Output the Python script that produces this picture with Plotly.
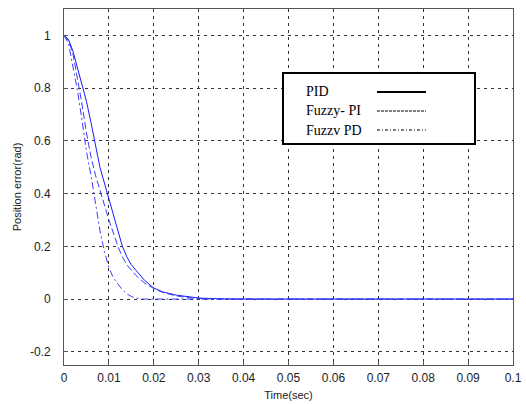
import plotly.graph_objects as go

t_pid = [0, 0.001, 0.002, 0.003, 0.004, 0.005, 0.006, 0.007, 0.008, 0.009, 0.010, 0.011, 0.012, 0.013,
         0.014, 0.015, 0.016, 0.018, 0.020, 0.022, 0.025, 0.028, 0.030, 0.035, 0.040, 0.1]
v_pid = [1, 0.985, 0.94, 0.88, 0.82, 0.75, 0.67, 0.58, 0.50, 0.44, 0.38, 0.32, 0.26, 0.20,
         0.16, 0.13, 0.11, 0.07, 0.042, 0.027, 0.015, 0.007, 0.004, 0.001, 0, 0]

t_fpi = [0, 0.001, 0.002, 0.003, 0.004, 0.005, 0.006, 0.007, 0.008, 0.009, 0.010, 0.011, 0.012, 0.013,
         0.014, 0.015, 0.016, 0.018, 0.020, 0.022, 0.025, 0.028, 0.030, 0.035, 0.1]
v_fpi = [1, 0.98, 0.93, 0.84, 0.74, 0.63, 0.54, 0.47, 0.41, 0.35, 0.30, 0.25, 0.20, 0.16,
         0.13, 0.11, 0.09, 0.06, 0.04, 0.025, 0.012, 0.005, 0.002, 0, 0]

t_fpd = [0, 0.001, 0.002, 0.003, 0.004, 0.005, 0.006, 0.007, 0.008, 0.009, 0.010, 0.011, 0.012, 0.013,
         0.014, 0.015, 0.016, 0.017, 0.1]
v_fpd = [1, 0.97, 0.88, 0.79, 0.68, 0.56, 0.47, 0.37, 0.26, 0.18, 0.12, 0.08, 0.055, 0.035,
         0.02, 0.01, 0.004, 0, 0]

series_names = ["PID", "Fuzzy- PI", "Fuzzv PD"]
x_ticks = [0, 0.01, 0.02, 0.03, 0.04, 0.05, 0.06, 0.07, 0.08, 0.09, 0.1]
x_labels = ["0", "0.01", "0.02", "0.03", "0.04", "0.05", "0.06", "0.07", "0.08", "0.09", "0.1"]
y_ticks = [-0.2, 0, 0.2, 0.4, 0.6, 0.8, 1]
y_labels = ["-0.2", "0", "0.2", "0.4", "0.6", "0.8", "1"]

fig = go.Figure()
fig.add_trace(go.Scatter(x=t_pid, y=v_pid, mode="lines", name=series_names[0],
                         line=dict(color="#1a1aff", width=1)))
fig.add_trace(go.Scatter(x=t_fpi, y=v_fpi, mode="lines", name=series_names[1],
                         line=dict(color="#3b3bff", width=1, dash="7px,3px")))
fig.add_trace(go.Scatter(x=t_fpd, y=v_fpd, mode="lines", name=series_names[2],
                         line=dict(color="#3b3bff", width=1, dash="7px,3px,2px,3px")))

axis_font = dict(family="Liberation Sans, Arial", size=12, color="#222")
title_font = dict(family="Liberation Sans, Arial", size=11, color="#222")
fig.update_layout(
    width=526, height=404,
    margin=dict(l=64, r=13, t=9, b=39),
    paper_bgcolor="white", plot_bgcolor="white",
    showlegend=False,
    xaxis=dict(range=[0, 0.1], tickvals=x_ticks, ticktext=x_labels, tickfont=axis_font,
               showgrid=True, gridcolor="#333", griddash="3px,4px", gridwidth=1,
               zeroline=False, showline=True, linecolor="#555", linewidth=1, mirror=True,
               ticks="inside", ticklen=4, tickcolor="#555", ticklabelstandoff=2, automargin=False,
               title=dict(text="Time(sec)", font=title_font, standoff=6)),
    yaxis=dict(range=[-0.25, 1.1], tickvals=y_ticks, ticktext=y_labels, tickfont=axis_font,
               showgrid=True, gridcolor="#333", griddash="3px,4px", gridwidth=1,
               zeroline=False, showline=True, linecolor="#555", linewidth=1, mirror=True,
               ticks="inside", ticklen=4, tickcolor="#555", ticklabelstandoff=10, automargin=False,
               title=dict(text="Position error(rad)", font=title_font, standoff=6)),
)

# legend box drawn manually (text left, sample right, black samples)
lx0, lx1, ly0, ly1 = 283, 475, 73, 144
W, H = 526, 404
pl, pr, pt, pb = 64, 13, 9, 39
pw, ph = W - pl - pr, H - pt - pb
def px(x): return (x - pl) / pw
def py(y): return 1 - (y - pt) / ph

fig.add_shape(type="rect", xref="paper", yref="paper", x0=px(lx0), x1=px(lx1), y0=py(ly1), y1=py(ly0),
              line=dict(color="black", width=2), fillcolor="white", layer="above")
rows_y = [92, 111, 130]
dashes = ["solid", "3px,1px", "3px,2px,1px,2px"]
widths = [2, 1, 1]
for name, yy, d, w in zip(series_names, rows_y, dashes, widths):
    fig.add_annotation(xref="paper", yref="paper", x=px(304), y=py(yy), text=name, showarrow=False,
                       xanchor="left", yanchor="middle",
                       font=dict(family="Liberation Serif, Times New Roman", size=14, color="black"))
    fig.add_shape(type="line", xref="paper", yref="paper", x0=px(377), x1=px(426), y0=py(yy), y1=py(yy),
                  line=dict(color="black", width=w, dash=d), layer="above")

fig.write_html("out.html")
